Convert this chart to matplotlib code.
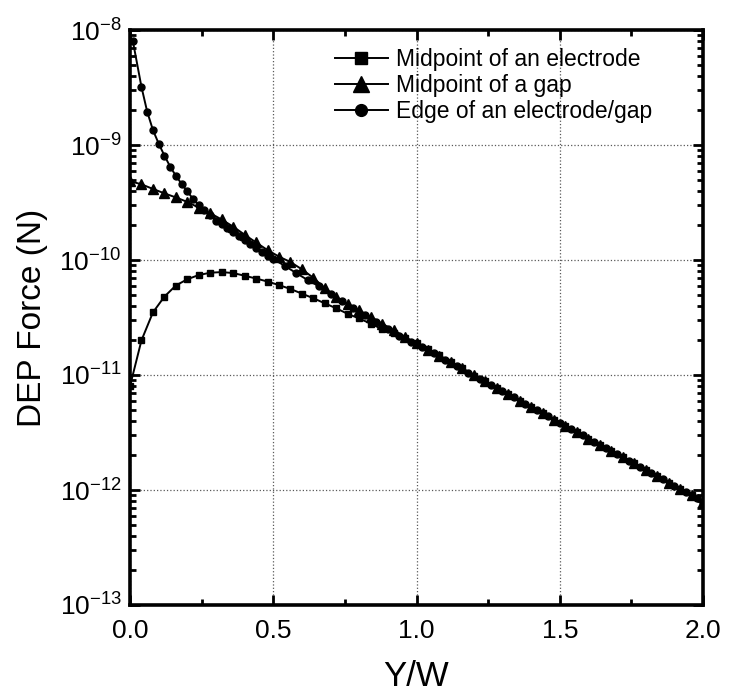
import numpy as np
import matplotlib
matplotlib.use("Agg")
import matplotlib.pyplot as plt
from matplotlib.ticker import MultipleLocator, FormatStrFormatter, LogLocator, LogFormatterMathtext

plt.rcParams['font.family'] = ['Liberation Sans', 'DejaVu Sans']
plt.rcParams['mathtext.default'] = 'regular'

# values (Y/W, DEP force in N)
x_grid = [0.00, 0.04, 0.08, 0.12, 0.16, 0.20, 0.24, 0.28, 0.32, 0.36,
          0.40, 0.44, 0.48, 0.52, 0.56, 0.60, 0.64, 0.68, 0.72, 0.76,
          0.80, 0.84, 0.88, 0.92, 0.96, 1.00, 1.04, 1.08, 1.12, 1.16,
          1.20, 1.24, 1.28, 1.32, 1.36, 1.40, 1.44, 1.48, 1.52, 1.56,
          1.60, 1.64, 1.68, 1.72, 1.76, 1.80, 1.84, 1.88, 1.92, 1.96, 2.00]

f_electrode = [8.0e-12, 2.0e-11, 3.5e-11, 4.8e-11, 6.0e-11, 6.8e-11, 7.4e-11, 7.75e-11, 7.85e-11, 7.7e-11,
               7.3e-11, 6.9e-11, 6.5e-11, 6.05e-11, 5.6e-11, 5.1e-11, 4.65e-11, 4.2e-11, 3.8e-11, 3.4e-11,
               3.1e-11, 2.8e-11, 2.5e-11, 2.3e-11, 2.1e-11, 1.9e-11, 1.68e-11, 1.48e-11, 1.3e-11, 1.14e-11,
               9.9e-12, 8.8e-12, 7.7e-12, 6.8e-12, 6.0e-12, 5.3e-12, 4.65e-12, 4.1e-12, 3.6e-12, 3.2e-12,
               2.8e-12, 2.48e-12, 2.18e-12, 1.92e-12, 1.7e-12, 1.5e-12, 1.32e-12, 1.16e-12, 1.02e-12, 9.0e-13, 7.9e-13]

f_gap = [4.85e-10, 4.55e-10, 4.15e-10, 3.8e-10, 3.5e-10, 3.2e-10, 2.85e-10, 2.55e-10, 2.25e-10, 1.95e-10,
         1.66e-10, 1.42e-10, 1.22e-10, 1.07e-10, 9.6e-11, 8.3e-11, 7.0e-11, 5.7e-11, 4.75e-11, 4.15e-11,
         3.65e-11, 3.2e-11, 2.8e-11, 2.45e-11, 2.14e-11, 1.88e-11, 1.65e-11, 1.46e-11, 1.29e-11, 1.14e-11,
         1.0e-11, 8.8e-12, 7.7e-12, 6.8e-12, 6.0e-12, 5.3e-12, 4.65e-12, 4.1e-12, 3.6e-12, 3.2e-12,
         2.8e-12, 2.48e-12, 2.18e-12, 1.92e-12, 1.7e-12, 1.5e-12, 1.32e-12, 1.16e-12, 1.02e-12, 9.0e-13, 7.9e-13]

x_edge = [0.01, 0.04, 0.06, 0.08, 0.10, 0.12, 0.14, 0.16, 0.18, 0.20,
          0.22, 0.24, 0.26, 0.28, 0.30, 0.32, 0.34, 0.36, 0.38, 0.40,
          0.42, 0.44, 0.46, 0.48, 0.50, 0.54, 0.58, 0.62, 0.66, 0.70,
          0.74, 0.78, 0.82, 0.86, 0.90, 0.94, 0.98, 1.02, 1.06, 1.10,
          1.14, 1.18, 1.22, 1.26, 1.30, 1.34, 1.38, 1.42, 1.46, 1.50,
          1.54, 1.58, 1.62, 1.66, 1.70, 1.74, 1.78, 1.82, 1.86, 1.90,
          1.94, 1.98, 2.00]

f_edge = [8.0e-9, 3.2e-9, 1.95e-9, 1.35e-9, 1.03e-9, 8.1e-10, 6.5e-10, 5.4e-10, 4.6e-10, 3.95e-10,
          3.4e-10, 3.0e-10, 2.7e-10, 2.45e-10, 2.2e-10, 2.05e-10, 1.9e-10, 1.75e-10, 1.62e-10, 1.5e-10,
          1.38e-10, 1.27e-10, 1.17e-10, 1.09e-10, 1.02e-10, 8.9e-11, 7.7e-11, 6.7e-11, 5.9e-11, 5.1e-11,
          4.4e-11, 3.8e-11, 3.3e-11, 2.9e-11, 2.5e-11, 2.2e-11, 1.95e-11, 1.75e-11, 1.54e-11, 1.36e-11,
          1.2e-11, 1.05e-11, 9.3e-12, 8.2e-12, 7.2e-12, 6.4e-12, 5.6e-12, 4.95e-12, 4.36e-12, 3.85e-12,
          3.39e-12, 2.99e-12, 2.64e-12, 2.32e-12, 2.05e-12, 1.8e-12, 1.59e-12, 1.4e-12, 1.24e-12, 1.09e-12,
          9.6e-13, 8.5e-13, 7.9e-13]

labels = ['Midpoint of an electrode', 'Midpoint of a gap', 'Edge of an electrode/gap']

fig = plt.figure(figsize=(7.33, 6.95), dpi=100)
ax = fig.add_axes([130/733, 1 - 605/695, 573/733, 575/695])

ax.plot(x_grid, f_electrode, 'k-', marker='s', ms=5, lw=1.4, label=labels[0])
ax.plot(x_grid, f_gap, 'k-', marker='^', ms=6.5, lw=1.4, label=labels[1])
ax.plot(x_edge, f_edge, 'k-', marker='o', ms=5, lw=1.4, label=labels[2])

ax.set_yscale('log')
ax.set_xlim(0, 2)
ax.set_ylim(1e-13, 1e-8)

ax.xaxis.set_major_locator(MultipleLocator(0.5))
ax.xaxis.set_minor_locator(MultipleLocator(0.25))
ax.xaxis.set_major_formatter(FormatStrFormatter('%.1f'))
ax.yaxis.set_major_locator(LogLocator(base=10, numticks=10))
ax.yaxis.set_minor_locator(LogLocator(base=10, subs=np.arange(2, 10), numticks=20))
ax.yaxis.set_major_formatter(LogFormatterMathtext())

ax.tick_params(which='both', direction='in', top=True, right=True, width=2)
ax.tick_params(which='major', length=7, labelsize=19)
ax.tick_params(which='minor', length=4)
ax.tick_params(axis='x', pad=10)
ax.tick_params(axis='y', pad=6)

for s in ax.spines.values():
    s.set_linewidth(2.6)

ax.grid(True, which='major', ls=':', color='0.35', lw=0.9)

ax.set_xlabel('Y/W', fontsize=25, labelpad=12)
ax.set_ylabel('DEP Force (N)', fontsize=24, labelpad=8)

ax.legend(loc='upper left', bbox_to_anchor=(0.358, 0.968), frameon=False,
          fontsize=16.5, markerscale=1.7, handlelength=2.3, handletextpad=0.35,
          labelspacing=0.12, borderpad=0, borderaxespad=0)

fig.savefig('out.png', dpi=100)
